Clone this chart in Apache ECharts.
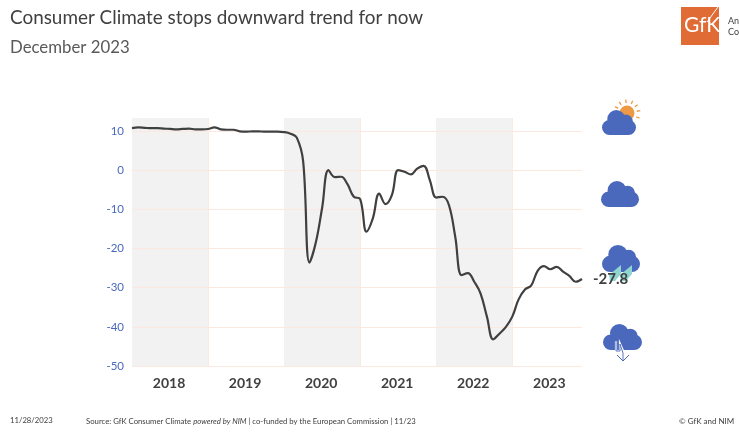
<!DOCTYPE html>
<html><head><meta charset="utf-8">
<style>html,body{margin:0;padding:0;background:#fff}#c{width:739px;height:445px}</style>
<script src="https://cdn.jsdelivr.net/npm/echarts@6/dist/echarts.min.js"></script>
</head><body><div id="c"></div>
<script>
const years = [2018,2019,2020,2021,2022,2023];
const shadedYears = [2018,2020,2022];
const yTicks = [10,0,-10,-20,-30,-40,-50];
const v2018 = [10.7,10.9,10.8,10.7,10.7,10.6,10.5,10.4,10.5,10.6,10.4,10.4];
const v2019 = [10.5,10.9,10.4,10.3,10.3,9.9,9.8,9.9,9.9,9.8,9.8,9.8];
const v2020 = [9.7,9.3,8.3,2.3,-23.6,-18.5,-9.6,0,-1.8,-1.7,-3.6,-6.8];
const v2021 = [-7.4,-15.7,-12.3,-6,-8.7,-6.4,0,-0.4,-1.1,0.4,1.1,-2.6];
const v2022 = [-7,-6.8,-8.9,-17,-26.8,-26.3,-28.5,-31.5,-37.4,-43.2,-41.7,-40];
const v2023 = [-37.4,-33,-30.5,-29.4,-25.7,-24.5,-25.3,-24.7,-25.9,-27,-28.5,-27.8];
const titleText = 'Consumer Climate stops downward trend for now';
const subtitleText = 'December 2023';
const dateText = '11/28/2023';
const copyrightText = '© GfK and NIM';

const values = [].concat(v2018,v2019,v2020,v2021,v2022,v2023);
const months = [];
years.forEach(y=>{for(let m=1;m<=12;m++)months.push(y+'-'+String(m).padStart(2,'0'));});
const FONT='Lato';
const BLUE='#4a69bd', GRID='#fbe9df';

function puffs(x,y,w,h){
  const r=h*0.30, out=[];
  out.push({type:'rect',shape:{x:x,y:y+h-2*r,width:w,height:2*r,r:r},style:{fill:BLUE},silent:true});
  out.push({type:'circle',shape:{cx:x+w*0.42,cy:y+h*0.36,r:h*0.36},style:{fill:BLUE},silent:true});
  out.push({type:'circle',shape:{cx:x+w*0.70,cy:y+h*0.46,r:h*0.28},style:{fill:BLUE},silent:true});
  return out;
}
const sunRays=[-62,-35,-5,25,52,80,112].map(a=>{
  const cx=627,cy=113,t=(a-90)*Math.PI/180;
  return {type:'line',shape:{x1:cx+10*Math.cos(t),y1:cy+10*Math.sin(t),x2:cx+13.5*Math.cos(t),y2:cy+13.5*Math.sin(t)},style:{stroke:'#ee9a45',lineWidth:1.3},silent:true};
});
function drop(x,y){
  return {type:'polygon',shape:{points:[[x+10,y],[x+10,y+9],[x+4,y+16],[x-1,y+16],[x-2,y+10]]},style:{fill:'#8fd6d0'},silent:true};
}
const icons=[].concat(
  [{type:'circle',shape:{cx:627,cy:113,r:7.5},style:{fill:'#ee9a45'},silent:true}],
  sunRays,
  puffs(602,110,34,25),
  puffs(601,181,38,26),
  puffs(602,245,38,27),
  [drop(611,265),drop(622,265)],
  puffs(603,324,39,26),
  [{type:'polyline',shape:{points:[[616,341],[616,351],[620,351],[620,344],[624,353],[624,358],[622,355]]},style:{fill:'none',stroke:'#fff',lineWidth:2.2},silent:true},
   {type:'polyline',shape:{points:[[616,341],[616,351],[620,351],[620,344],[623,353],[623,360]]},style:{fill:'none',stroke:BLUE,lineWidth:0.9},silent:true},
   {type:'polyline',shape:{points:[[617,355],[623,361],[629,355]]},style:{fill:'none',stroke:BLUE,lineWidth:1},silent:true}]
);
const texts=[
 {type:'text',x:10,y:8.5,style:{text:titleText,font:'400 18.9px '+FONT,fill:'#404040'},silent:true},
 {type:'text',x:10,y:39,style:{text:subtitleText,font:'400 16.8px '+FONT,fill:'#595959'},silent:true},
 {type:'rect',shape:{x:681,y:7,width:38,height:38},style:{fill:'#e06b34'},silent:true},
 {type:'text',x:684,y:15,style:{text:'GfK',font:'400 21px '+FONT,fill:'#fff'},silent:true},
 {type:'line',shape:{x1:718,y1:7,x2:707,y2:22},style:{stroke:'#fff',lineWidth:1},silent:true},
 {type:'text',x:728,y:17,style:{text:'An',font:'400 9px '+FONT,fill:'#404040'},silent:true},
 {type:'text',x:728,y:28,style:{text:'Co',font:'400 9px '+FONT,fill:'#404040'},silent:true},
 {type:'text',x:10,y:417,style:{text:dateText,font:'400 7.7px '+FONT,fill:'#404040'},silent:true},
 {type:'text',x:86,y:417,style:{
   text:'Source: GfK Consumer Climate {i|powered by NIM} | co-funded by the European Commission | 11/23',
   font:'400 7.75px '+FONT,fill:'#404040',
   rich:{i:{font:'italic 400 7.75px '+FONT,fill:'#404040'}}},silent:true},
 {type:'text',x:679,y:417,style:{text:copyrightText,font:'400 8px '+FONT,fill:'#404040'},silent:true}
];
const chart=echarts.init(document.getElementById('c'),null,{renderer:'canvas'});
const idx=y=>years.indexOf(y)*12;
chart.setOption({
  animation:false,
  grid:{left:132,right:157,top:118,bottom:79},
  xAxis:{type:'category',data:months,boundaryGap:false,
    axisLine:{show:true,lineStyle:{color:GRID}},axisTick:{show:false},
    splitLine:{show:true,interval:i=>i%12===0,lineStyle:{color:GRID,width:1}},
    axisLabel:{interval:i=>i%12===6,formatter:v=>v.slice(0,4),hideOverlap:false,padding:[0,2,0,0],
      color:'#404040',fontFamily:FONT,fontWeight:'bold',fontSize:14,margin:10}},
  yAxis:{type:'value',min:-50,max:13.3,interval:10,
    axisLine:{show:false},axisTick:{show:false},splitLine:{show:false},
    axisLabel:{showMaxLabel:false,color:BLUE,fontFamily:FONT,fontSize:11.5,margin:8,
      formatter:v=>yTicks.includes(v)?String(v):''}},
  series:[{type:'line',data:values,smooth:0.4,showSymbol:false,symbol:'none',clip:false,z:5,
    lineStyle:{color:'#404040',width:2.2},
    endLabel:{show:true,formatter:p=>String(p.value),color:'#404040',fontFamily:FONT,fontWeight:'bold',fontSize:15,distance:11},
    markArea:{silent:true,z:1,itemStyle:{color:'#f2f2f2'},label:{show:false},
      data:shadedYears.map(y=>[{xAxis:idx(y)},{xAxis:idx(y)+12}])},
    markLine:{silent:true,symbol:'none',z:2,label:{show:false},lineStyle:{color:GRID,width:1,type:'solid'},
      data:yTicks.map(t=>({yAxis:t}))}
  }],
  graphic:{elements:[].concat(icons,texts)}
});
</script></body></html>
